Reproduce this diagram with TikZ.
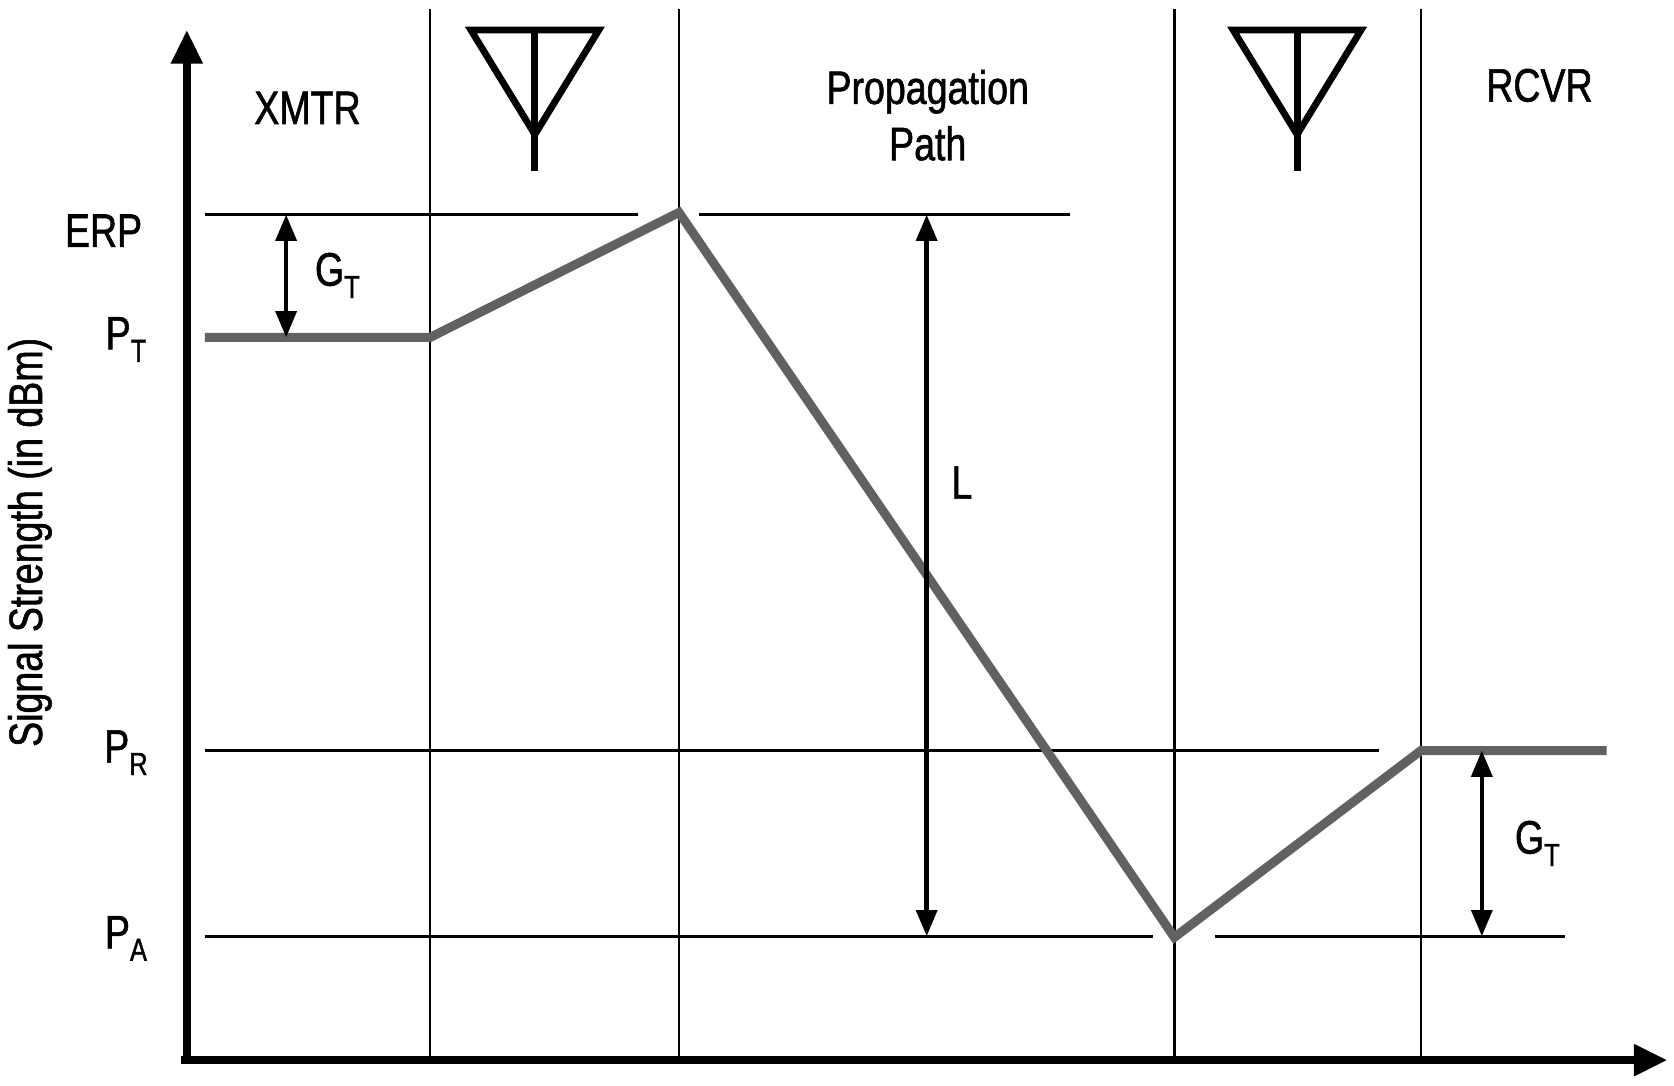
\documentclass[tikz,border=0pt]{standalone}
\usepackage{fontspec}
\setmainfont{Liberation Sans}[FakeStretch=0.8,FakeBold=1.2]
\usetikzlibrary{arrows.meta}

\newcommand{\lvl}[2]{#1\raisebox{-0.5ex}{\fontsize{8.5}{9}\selectfont #2}}

\tikzset{
  thin line/.style={line width=0.65pt},
  axis/.style={line width=2.2pt,-{Triangle[length=9pt,width=8pt]}},
  level/.style={line width=2.4pt,draw=black!62,line join=miter},
  span/.style={line width=1.2pt,{Triangle[length=7pt,width=5.5pt]}-{Triangle[length=7pt,width=5.5pt]}},
  antenna/.style={line width=1.8pt}
}

\begin{document}
\begin{tikzpicture}[x=0.01cm,y=-0.01cm,font=\fontsize{12.5}{15}\selectfont]
\useasboundingbox (0,0) rectangle (1568,1017);

% section borders
\foreach \x in {403,636,1100,1331}
  \draw[thin line] (\x,8) -- (\x,993);

% reference levels
\draw[thin line] (192,201) -- (598,201);
\draw[thin line] (655,201) -- (1002,201);
\draw[thin line] (192,703) -- (1292,703);
\draw[thin line] (192,877) -- (1080,877);
\draw[thin line] (1138,877) -- (1466,877);

% axes
\coordinate (O) at (175,993);
\draw[axis] (O) -- (175,28);
\draw[axis] (170,993) -- (1562,993);

% signal level
\coordinate (tx) at (403,316);
\coordinate (erp) at (636,199);
\coordinate (rx) at (1100,878);
\coordinate (pr) at (1331,703);
\draw[level] (192,316) -- (tx) -- (erp) -- (rx) -- (pr) -- (1505,703);

% antennas
\foreach \x in {501,1215} {
  \draw[antenna] (\x-60,28) -- (\x+60,28) -- (\x,126) -- cycle;
  \draw[antenna] (\x,28) -- (\x,160);
}

% gains and loss
\coordinate (gt1) at (268,201);
\coordinate (gt2) at (268,316);
\draw[span] (gt1) -- (gt2);
\coordinate (l1) at (868,201);
\coordinate (l2) at (868,877);
\draw[span] (l1) -- (l2);
\coordinate (gr1) at (1388,703);
\coordinate (gr2) at (1388,877);
\draw[span] (gr1) -- (gr2);

\node (gtl) at (316,258) {\lvl{G}{T}};
\node (ll) at (901,452) {L};
\node (grl) at (1440,790) {\lvl{G}{T}};

% level labels
\node (erpl) at (97,216) {ERP};
\node (ptl) at (118,318) {\lvl{P}{T}};
\node (prl) at (118,705) {\lvl{P}{R}};
\node (pal) at (118,879) {\lvl{P}{A}};

% section titles
\node (xmtr) at (288,101) {XMTR};
\node[align=center] (path) at (869,108) {Propagation\\Path};
\node (rcvr) at (1442,80) {RCVR};

\node[rotate=90] (ylab) at (28,508) {Signal Strength (in dBm)};

\end{tikzpicture}
\end{document}
